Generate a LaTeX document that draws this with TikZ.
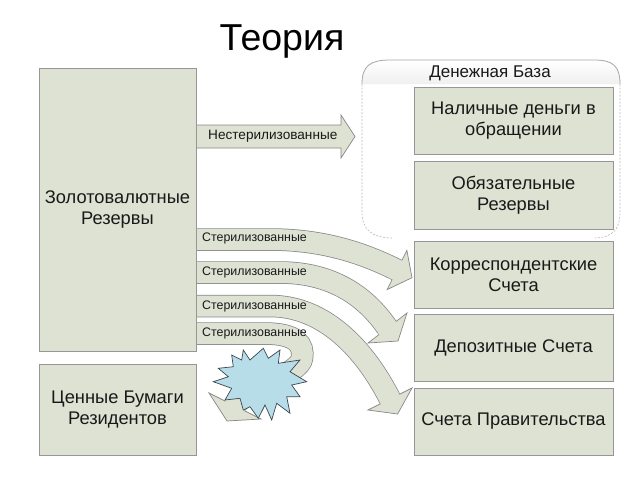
\documentclass[tikz,border=0pt]{standalone}
\usepackage{fontspec}
\setmainfont{Liberation Sans}
\usetikzlibrary{shapes.geometric,calc}
\definecolor{boxfill}{RGB}{222,226,211}
\definecolor{boxline}{RGB}{150,150,150}
\definecolor{arrline}{RGB}{135,135,135}
\definecolor{starfill}{RGB}{183,222,232}
\definecolor{starline}{RGB}{60,70,80}
\definecolor{txt}{RGB}{25,25,25}
\newcommand\bendarrow[5]{%
  \draw[shaftout] #1; \draw[shaftin] #1;
  \draw[headtri] #4 -- #3 -- #5 -- cycle;
  \draw[shaftin] ($#2!-2pt!#3$) -- ($#2!3pt!#3$);
}
\begin{document}
\begin{tikzpicture}[x=1pt,y=-1pt,
  box/.style={draw=boxline, line width=0.8pt, fill=boxfill, inner sep=0pt,
    font=\fontsize{18.3}{21}\selectfont, text=txt, align=center},
  leftbox/.style={box, minimum width=157pt},
  rightbox/.style={box, minimum width=199pt, minimum height=67pt},
  arrlabel/.style={font=\fontsize{12.4}{14}\selectfont, text=txt, anchor=west, inner sep=0pt},
  blockarrow/.style={draw=arrline, line width=0.7pt, fill=boxfill, line join=miter},
  shaftout/.style={draw=arrline, line width=22.5pt},
  shaftin/.style={draw=boxfill, line width=21pt},
  headtri/.style={draw=arrline, line width=0.7pt, fill=boxfill, line join=miter},
  bracket/.style={draw=gray!55, line width=0.6pt, dash pattern=on 2pt off 1.5pt},
  boomstyle/.style={draw=starline, fill=starfill, line width=0.7pt, line join=miter},
]
\useasboundingbox[fill=white] (0,0) rectangle (640,480);

% title
\node[font=\fontsize{37.5}{40}\selectfont, text=black, anchor=base, inner sep=0pt] (title) at (282,50) {Теория};

% money base bracket
\draw[bracket] (362,84) -- (362,212) .. controls (362,230) and (372,237.5) .. (392,238);
\draw[bracket] (620,84) -- (620,212) .. controls (620,230) and (612,237.5) .. (595,238);
\draw[draw=gray!70, line width=0.8pt, top color=white, bottom color=gray!12]
  (362,84) .. controls (362,66) and (370,60) .. (390,60) -- (594,60)
  .. controls (613,60) and (620,66) .. (620,84);
\node[font=\fontsize{17}{19}\selectfont, text=txt] (mb) at (490,73) {Денежная База};

% coordinates for arrows
\coordinate (s1) at (196,239.5);
\coordinate (s2) at (196,272.5);
\coordinate (s3) at (196,306);
\coordinate (s4) at (196,333.5);
\coordinate (B1) at (397,270);   \coordinate (T1) at (412,277.7);
\coordinate (P1) at (406.9,250.4); \coordinate (Q1) at (387.1,289.6);
\coordinate (B2) at (387.5,328); \coordinate (T2) at (398,341);
\coordinate (P2) at (407,313);   \coordinate (Q2) at (368,343);
\coordinate (B3) at (390,399);   \coordinate (T3) at (397.6,414);
\coordinate (P3) at (412,388);   \coordinate (Q3) at (368,410);
\coordinate (B4) at (235,406);   \coordinate (T4) at (227,421);
\coordinate (P4) at (209,393);   \coordinate (Q4) at (261,419);

% curved arrows
\bendarrow{(s1) -- (270,239.5) .. controls (320,239.5) and (360,251.5) .. (B1)}{(B1)}{(T1)}{(P1)}{(Q1)}
\bendarrow{(s2) -- (280,272.5) .. controls (334,272.5) and (367,298) .. (B2)}{(B2)}{(T2)}{(P2)}{(Q2)}
\bendarrow{(s3) -- (270,306) .. controls (325,306) and (365,350) .. (B3)}{(B3)}{(T3)}{(P3)}{(Q3)}
\bendarrow{(s4) -- (265,333.5) .. controls (297,333.5) and (304,345) .. (302,358) .. controls (300,375) and (244,388) .. (B4)}{(B4)}{(T4)}{(P4)}{(Q4)}

% straight arrow
\coordinate (n0) at (196,125);
\draw[blockarrow] (n0) -- (341,125) -- (341,115) -- (355,136.5) -- (341,158) -- (341,148) -- (196,148);

% boxes
\node[leftbox, minimum height=283pt] (gold) at (117.5,209.5) {Золотовалютные\\Резервы};
\node[leftbox, minimum height=91pt] (sec) at (117.5,409.5) {Ценные Бумаги\\Резидентов};
\node[rightbox] (cash) at (513.5,120.5) {Наличные деньги в\\обращении};
\node[rightbox, minimum height=68pt] (req) at (513.5,195) {Обязательные\\Резервы};
\node[rightbox] (corr) at (513.5,274.5) {Корреспондентские\\Счета};
\node[rightbox] (dep) at (513.5,347.5) {Депозитные Счета};
\node[rightbox] (gov) at (513.5,421.5) {Счета Правительства};

% labels
\node[arrlabel, font=\fontsize{13.6}{15}\selectfont] (l0) at (208,136.5) {Нестерилизованные};
\node[arrlabel] (l1) at (202,238.5) {Стерилизованные};
\node[arrlabel] (l2) at (202,272.5) {Стерилизованные};
\node[arrlabel] (l3) at (202,306) {Стерилизованные};
\node[arrlabel] (l4) at (202,333) {Стерилизованные};

% explosion
\draw[boomstyle] (243.3,350) -- (250,360) -- (263.3,348.3) -- (268.3,358.3)
  -- (280,350) -- (278.3,363.3) -- (300,360) -- (290,371.7) -- (306.7,381.7)
  -- (291.7,385) -- (300,396.7) -- (286.7,396.7) -- (290,413.3) -- (276.7,403.3)
  -- (271.7,420) -- (265,405) -- (258.3,418.3) -- (250,406.7) -- (243.3,410)
  -- (240,398.3) -- (225,400) -- (231.7,388.3) -- (213.3,381.7) -- (228.3,376.7)
  -- (218.3,368.3) -- (233.3,366.7) -- (231.7,355) -- (241.7,360) -- cycle;
\coordinate (boom) at (259,384);
\end{tikzpicture}
\end{document}
